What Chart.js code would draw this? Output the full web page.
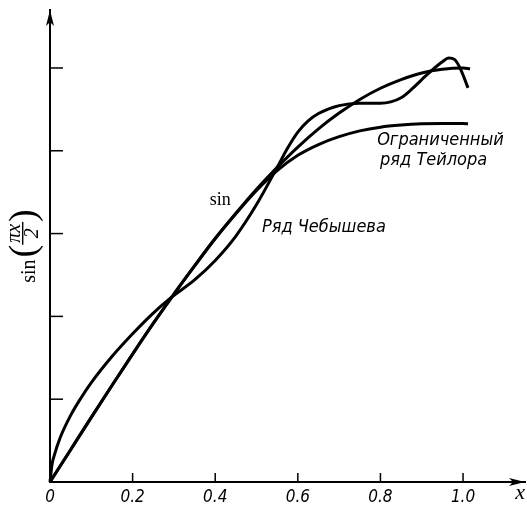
<!DOCTYPE html>
<html>
<head>
<meta charset="utf-8">
<script src="https://cdn.jsdelivr.net/npm/chart.js@4"></script>
<style>
    html, body { margin: 0; padding: 0; background: #fff; }
</style>
</head>
<body>
<canvas id="fig" width="527" height="506"></canvas>
<script>
// sin(pi x / 2)
const sinX = [0, 0.05, 0.1, 0.15, 0.2, 0.25, 0.3, 0.35, 0.4, 0.45, 0.5, 0.55, 0.6, 0.65, 0.7, 0.75, 0.8, 0.85, 0.9, 0.95, 1.0, 1.017];
const sinY = [0, 0.078, 0.156, 0.233, 0.309, 0.383, 0.454, 0.522, 0.588, 0.649, 0.707, 0.760, 0.809, 0.853, 0.891, 0.924, 0.951, 0.972, 0.988, 0.997, 1.0, 0.998];

// truncated Taylor series (follows sin, then flattens)
const taylorX = [0, 0.05, 0.1, 0.15, 0.2, 0.25, 0.3, 0.35, 0.4, 0.45, 0.5, 0.55, 0.6, 0.65, 0.7, 0.75, 0.8, 0.85, 0.9, 0.95, 1.0, 1.012];
const taylorY = [0, 0.078, 0.156, 0.233, 0.309, 0.383, 0.454, 0.522, 0.588, 0.648, 0.704, 0.752, 0.789, 0.815, 0.834, 0.848, 0.857, 0.862, 0.865, 0.866, 0.866, 0.865];

// Chebyshev series (oscillates round sin)
const chebX = [0, 0.005, 0.01, 0.025, 0.05, 0.075, 0.1, 0.15, 0.2, 0.25, 0.29, 0.35, 0.4, 0.45, 0.5, 0.55, 0.575, 0.6, 0.625, 0.65, 0.7, 0.75, 0.8, 0.825, 0.85, 0.875, 0.9, 0.925, 0.95, 0.965, 0.98, 0.995, 1.012];
const chebY = [0, 0.043, 0.063, 0.108, 0.161, 0.203, 0.240, 0.303, 0.358, 0.408, 0.443, 0.488, 0.535, 0.594, 0.67, 0.76, 0.806, 0.845, 0.872, 0.89, 0.909, 0.915, 0.915, 0.918, 0.928, 0.948, 0.972, 0.995, 1.015, 1.024, 1.02, 0.995, 0.952];

const xTicks = [0, 0.2, 0.4, 0.6, 0.8, 1.0];
const yTicks = [0.2, 0.4, 0.6, 0.8, 1.0];

const notes = [
    { text: "sin", x: 0.412, y: 0.68, font: "18px 'Liberation Serif'" },
    { text: "Ряд Чебышева", x: 0.513, y: 0.614, font: "italic 18px 'DejaVu Sans Condensed'", align: "left" },
    { text: "Ограниченный", x: 0.792, y: 0.826, font: "italic 18px 'DejaVu Sans Condensed'", align: "left" },
    { text: "ряд Тейлора", x: 0.799, y: 0.778, font: "italic 18px 'DejaVu Sans Condensed'", align: "left" }
];

function pts(xs, ys) {
    return xs.map((x, i) => ({ x: x, y: ys[i] }));
}

const curve = {
    borderColor: "#000",
    borderWidth: 3,
    pointRadius: 0,
    fill: false,
    cubicInterpolationMode: "monotone",
    clip: false
};

// y title: sin( πx / 2 ) written as a fraction, rotated
function drawYTitle(ctx, cx, cy) {
    ctx.save();
    ctx.translate(cx, cy);
    ctx.rotate(-Math.PI / 2);
    ctx.textBaseline = "alphabetic";
    ctx.textAlign = "left";
    ctx.font = "20px 'Liberation Serif'";
    const wSin = ctx.measureText("sin").width;
    ctx.font = "italic 20px 'Liberation Serif'";
    const wTop = ctx.measureText("πx").width;
    ctx.font = "38px 'Liberation Serif'";
    const wPar = ctx.measureText("(").width;
    const total = wSin + 2 + wPar + wTop + 4 + wPar;
    let px = -total / 2;
    ctx.font = "20px 'Liberation Serif'";
    ctx.fillText("sin", px, 12);
    px += wSin + 2;
    ctx.font = "38px 'Liberation Serif'";
    ctx.fillText("(", px, 12);
    px += wPar;
    ctx.font = "italic 20px 'Liberation Serif'";
    ctx.fillText("πx", px + 2, -3);
    ctx.fillRect(px, -1, wTop + 4, 1.4);
    ctx.textAlign = "center";
    ctx.fillText("2", px + (wTop + 4) / 2, 15);
    ctx.textAlign = "left";
    px += wTop + 4;
    ctx.font = "38px 'Liberation Serif'";
    ctx.fillText(")", px, 12);
    ctx.restore();
}

// arrows, tick marks and curve labels
const axisDecor = {
    id: "axisDecor",
    afterDraw(chart) {
        const { ctx, chartArea: a, scales: { x, y } } = chart;
        ctx.save();
        ctx.strokeStyle = "#000";
        ctx.fillStyle = "#000";
        ctx.lineWidth = 1.5;

        for (const v of xTicks) {
            if (v === 0) continue;
            const px = x.getPixelForValue(v);
            ctx.beginPath();
            ctx.moveTo(px, a.bottom);
            ctx.lineTo(px, a.bottom - 9);
            ctx.stroke();
        }
        for (const v of yTicks) {
            const py = y.getPixelForValue(v);
            ctx.beginPath();
            ctx.moveTo(a.left, py);
            ctx.lineTo(a.left + 13, py);
            ctx.stroke();
        }

        // arrow heads
        ctx.beginPath();
        ctx.moveTo(a.right, a.bottom);
        ctx.lineTo(a.right - 16, a.bottom - 4);
        ctx.lineTo(a.right - 12, a.bottom);
        ctx.lineTo(a.right - 16, a.bottom + 4);
        ctx.closePath();
        ctx.fill();
        ctx.beginPath();
        ctx.moveTo(a.left, a.top);
        ctx.lineTo(a.left - 4, a.top + 16);
        ctx.lineTo(a.left, a.top + 12);
        ctx.lineTo(a.left + 4, a.top + 16);
        ctx.closePath();
        ctx.fill();

        ctx.textBaseline = "middle";
        for (const n of notes) {
            ctx.font = n.font;
            ctx.textAlign = n.align || "center";
            ctx.fillText(n.text, x.getPixelForValue(n.x), y.getPixelForValue(n.y));
        }
        ctx.restore();

        drawYTitle(ctx, 23, y.getPixelForValue(0.57));
    }
};

new Chart(document.getElementById("fig"), {
    type: "line",
    data: {
        datasets: [
            Object.assign({ label: "sin", data: pts(sinX, sinY) }, curve),
            Object.assign({ label: "Ограниченный ряд Тейлора", data: pts(taylorX, taylorY) }, curve),
            Object.assign({ label: "Ряд Чебышева", data: pts(chebX, chebY) }, curve)
        ]
    },
    options: {
        responsive: false,
        animation: false,
        devicePixelRatio: 1,
        layout: { padding: { left: 0, top: 10, right: 2, bottom: 0 } },
        plugins: { legend: { display: false }, tooltip: { enabled: false } },
        scales: {
            x: {
                type: "linear",
                min: 0,
                max: 1.15,
                afterBuildTicks: (s) => { s.ticks = xTicks.map(v => ({ value: v })); },
                afterFit: (s) => { s.height = 24; },
                grid: { drawOnChartArea: false, drawTicks: false },
                border: { display: true, color: "#000", width: 2 },
                ticks: {
                    padding: 5,
                    color: "#000",
                    maxRotation: 0,
                    font: { family: "'DejaVu Sans Condensed'", style: "italic", size: 17 },
                    callback: (v) => v === 0 ? "0" : v.toFixed(1)
                },
                title: {
                    display: true,
                    text: "x",
                    align: "end",
                    color: "#000",
                    padding: { top: 0, bottom: 0 },
                    font: { family: "'Liberation Serif'", style: "italic", size: 22 }
                }
            },
            y: {
                type: "linear",
                min: 0,
                max: 1.14,
                afterFit: (s) => { s.width = 50; },
                grid: { drawOnChartArea: false, drawTicks: false },
                border: { display: true, color: "#000", width: 2 },
                ticks: { display: false }
            }
        }
    },
    plugins: [axisDecor]
});
</script>
</body>
</html>
